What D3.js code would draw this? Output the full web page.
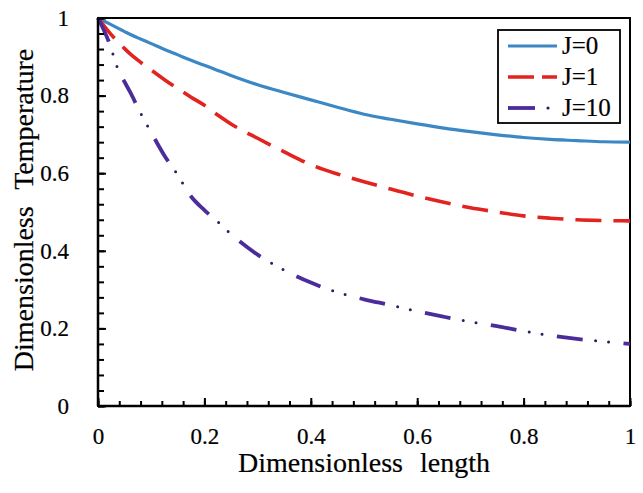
<!DOCTYPE html>
<html>
<head>
<meta charset="utf-8">
<script src="https://cdn.jsdelivr.net/npm/d3@7"></script>
<style>
  body { margin: 0; background: #fff; }
  svg { display: block; font-family: 'Liberation Serif', 'Times New Roman', serif; }
  svg text { font-family: 'Liberation Serif', 'Times New Roman', serif; fill: #000; stroke: #000; stroke-width: 0.2px; }
</style>
</head>
<body>
<svg></svg>
<script>
// values
const xs = [0, 0.02, 0.04, 0.05, 0.06, 0.08, 0.1, 0.125, 0.15, 0.175, 0.2, 0.225, 0.25, 0.3, 0.35, 0.4, 0.45, 0.5, 0.55, 0.6, 0.65, 0.7, 0.75, 0.8, 0.85, 0.9, 0.95, 1.0]
const j0 = [1, 0.986, 0.972, 0.965, 0.958, 0.946, 0.934, 0.919, 0.905, 0.891, 0.878, 0.865, 0.852, 0.828, 0.808, 0.789, 0.77, 0.752, 0.739, 0.727, 0.716, 0.707, 0.699, 0.692, 0.687, 0.684, 0.681, 0.68]
const j1 = [1, 0.965, 0.935, 0.921, 0.908, 0.886, 0.866, 0.841, 0.818, 0.796, 0.775, 0.75, 0.727, 0.69, 0.655, 0.622, 0.598, 0.578, 0.559, 0.541, 0.525, 0.511, 0.5, 0.49, 0.484, 0.48, 0.478, 0.477]
const j10 = [1, 0.94, 0.86, 0.835, 0.81, 0.755, 0.705, 0.645, 0.595, 0.54, 0.505, 0.475, 0.443, 0.39, 0.35, 0.318, 0.293, 0.275, 0.26, 0.244, 0.23, 0.217, 0.206, 0.193, 0.182, 0.173, 0.166, 0.16]
const seriesNames = ['J=0', 'J=1', 'J=10']
const tickLabels = [0, 0.2, 0.4, 0.6, 0.8, 1]

const width = 643
const height = 493
const plotLeft = 98, plotRight = 630, plotTop = 18, plotBottom = 406
const serif = "'Liberation Serif', 'Times New Roman', serif"

const svg = d3.select('svg').attr('width', width).attr('height', height)

const xScale = d3.scaleLinear().domain([0, 1]).range([plotLeft, plotRight])
const yScale = d3.scaleLinear().domain([0, 1]).range([plotBottom, plotTop])

const styles = [
  { color: '#3b88c4', w: 3.2, dash: null },
  { color: '#e2231f', w: 3.6, dash: '26,12' },
  { color: '#4b2c9b', w: 3.8, dash: '26,41' }
]
const seriesData = [j0, j1, j10]

// frame
svg.append('rect')
   .attr('x', plotLeft).attr('y', plotTop)
   .attr('width', plotRight - plotLeft).attr('height', plotBottom - plotTop)
   .attr('fill', 'none').attr('stroke', '#000').attr('stroke-width', 2)

const line = d3.line()
               .x((d) => xScale(d[0]))
               .y((d) => yScale(d[1]))
               .curve(d3.curveMonotoneX)

seriesData.forEach((vals, i) => {
  const pts = xs.map((x, k) => [x, vals[k]])
  const p = svg.append('path')
     .datum(pts)
     .attr('d', line)
     .attr('fill', 'none')
     .attr('stroke', styles[i].color)
     .attr('stroke-width', styles[i].w)
  if (styles[i].dash) p.attr('stroke-dasharray', styles[i].dash)
  if (i === 2) {
    // the two dots of the dash-dot-dot line
    svg.append('path')
       .datum(pts)
       .attr('d', line)
       .attr('fill', 'none')
       .attr('stroke', '#2a1f5e')
       .attr('stroke-width', 3)
       .attr('stroke-linecap', 'round')
       .attr('stroke-dasharray', '0,13,0,54')
       .attr('stroke-dashoffset', -39)
  }
})

// axes with inside ticks
const minorVals = d3.range(0, 1.0001, 0.04)
const xAxisMinor = d3.axisBottom(xScale).tickValues(minorVals).tickSize(-5).tickFormat('')
const xAxisMajor = d3.axisBottom(xScale).tickValues(tickLabels).tickSize(-8).tickPadding(22)
                     .tickFormat((d) => String(d))
const yAxisMinor = d3.axisLeft(yScale).tickValues(minorVals).tickSize(-6).tickFormat('')
const yAxisMajor = d3.axisLeft(yScale).tickValues(tickLabels).tickSize(-8).tickPadding(29)
                     .tickFormat((d) => String(d))

const styleAxis = (g) => {
  g.attr('font-family', serif).attr('font-size', 23)
  g.select('.domain').remove()
  g.selectAll('line').attr('stroke', '#000').attr('stroke-width', 2)
  g.selectAll('text').attr('fill', '#000')
}

svg.append('g').attr('transform', 'translate(0,' + plotBottom + ')').call(xAxisMinor).call(styleAxis)
svg.append('g').attr('transform', 'translate(0,' + plotBottom + ')').call(xAxisMajor).call(styleAxis)
svg.append('g').attr('transform', 'translate(' + plotLeft + ',0)').call(yAxisMinor).call(styleAxis)
svg.append('g').attr('transform', 'translate(' + plotLeft + ',0)').call(yAxisMajor).call(styleAxis)

// axis lines drawn on top
svg.append('line').attr('x1', plotLeft).attr('x2', plotRight).attr('y1', plotBottom).attr('y2', plotBottom)
   .attr('stroke', '#000').attr('stroke-width', 2.5)
svg.append('line').attr('x1', plotLeft).attr('x2', plotLeft).attr('y1', plotTop).attr('y2', plotBottom)
   .attr('stroke', '#000').attr('stroke-width', 2.5)

// titles
svg.append('text')
   .attr('x', (plotLeft + plotRight) / 2).attr('y', 472)
   .attr('text-anchor', 'middle')
   .attr('font-family', serif)
   .attr('font-size', 28)
   .attr('word-spacing', 10)
   .text('Dimensionless length')

svg.append('text')
   .attr('transform', 'translate(33,' + 210 + ') rotate(-90)')
   .attr('text-anchor', 'middle')
   .attr('font-family', serif)
   .attr('font-size', 28)
   .attr('word-spacing', 10)
   .text('Dimensionless Temperature')

// legend
const legend = svg.append('g')
legend.append('rect')
      .attr('x', 498).attr('y', 30).attr('width', 122).attr('height', 93)
      .attr('fill', '#fff').attr('stroke', '#000').attr('stroke-width', 1.8)

const legendY = [46, 77, 108]
seriesNames.forEach((name, i) => {
  const y = legendY[i]
  if (i === 0) {
    legend.append('line').attr('x1', 508).attr('x2', 557).attr('y1', y).attr('y2', y)
          .attr('stroke', styles[0].color).attr('stroke-width', 3.2)
  } else if (i === 1) {
    legend.append('line').attr('x1', 508).attr('x2', 557).attr('y1', y).attr('y2', y)
          .attr('stroke', styles[1].color).attr('stroke-width', 3.6)
          .attr('stroke-dasharray', '26,8')
  } else {
    legend.append('line').attr('x1', 508).attr('x2', 535).attr('y1', y).attr('y2', y)
          .attr('stroke', styles[2].color).attr('stroke-width', 3.8)
    legend.append('circle').attr('cx', 548).attr('cy', y).attr('r', 1.6).attr('fill', '#2a1f5e')
  }
  legend.append('text')
        .attr('x', 562).attr('y', y + 8)
        .attr('font-family', serif)
        .attr('font-size', 25)
        .text(name)
})
</script>
</body>
</html>
